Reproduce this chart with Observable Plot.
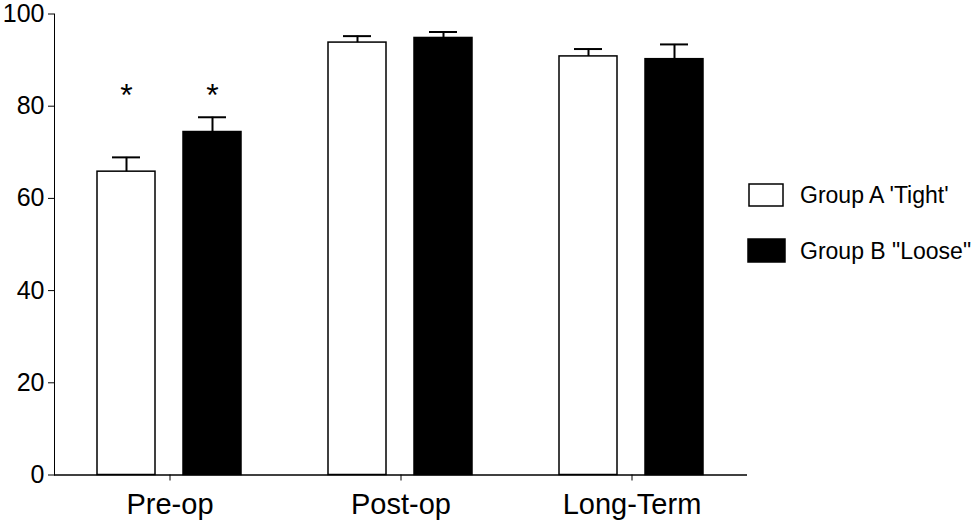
<!DOCTYPE html>
<html>
<head>
<meta charset="utf-8">
<script src="https://cdn.jsdelivr.net/npm/d3@7"></script>
<script src="https://cdn.jsdelivr.net/npm/@observablehq/plot@0.6"></script>
<style>
  body { margin: 0; background: #fff; }
</style>
</head>
<body>
<div id="chart"></div>
<script>
const times = ["Pre-op", "Post-op", "Long-Term"];
const groups = ["Group A 'Tight'", 'Group B "Loose"'];
const groupFills = ["white", "black"];
const meanA = [65.8, 93.8, 90.8];
const meanB = [74.4, 94.8, 90.2];
// upper error bar length (SEM)
const errA = [3.1, 1.4, 1.6];
const errB = [3.2, 1.3, 3.2];
// significance markers
const starTimes = ["Pre-op", "Pre-op"];
const starGroups = [groups[0], groups[1]];
const starLevel = 82;

let rows = times.flatMap((t, i) => [
  {time: t, group: groups[0], mean: meanA[i], err: errA[i]},
  {time: t, group: groups[1], mean: meanB[i], err: errB[i]}
]);
let stars = starTimes.map((t, i) => ({time: t, group: starGroups[i], y: starLevel}));

let chart = Plot.plot({
  width: 977,
  height: 523,
  marginLeft: 54,
  marginRight: 230,
  marginTop: 13.5,
  marginBottom: 48.5,
  style: {
    fontSize: "24px",
    fontFamily: "'Liberation Sans', Arial, sans-serif",
    color: "#000",
    backgroundColor: "#fff",
    overflow: "visible"
  },
  fx: {
    domain: times,
    padding: 0,
    label: null,
    axis: "bottom",
    tickSize: 6,
    tickPadding: 12
  },
  x: {
    domain: groups,
    axis: null,
    paddingInner: 0.322,
    paddingOuter: 0.489
  },
  y: {
    domain: [0, 100],
    ticks: [0, 20, 40, 60, 80, 100],
    tickSize: 6,
    tickPadding: 4,
    label: null,
    line: true
  },
  color: {domain: groups, range: groupFills},
  marks: [
    Plot.barY(rows, {fx: "time", x: "group", y: "mean", fill: "group", stroke: "black", strokeWidth: 1.5}),
    Plot.ruleX(rows, {fx: "time", x: "group", y1: "mean", y2: d => d.mean + d.err, strokeWidth: 2}),
    Plot.tickY(rows, {fx: "time", x: "group", y: d => d.mean + d.err, strokeWidth: 2, insetLeft: 15, insetRight: 15}),
    Plot.ruleY([0], {strokeWidth: 1.5}),
    Plot.text(stars, {fx: "time", x: "group", y: "y", text: () => "*", fontSize: 32, dy: -1})
  ]
});

// bigger category labels, as in the original
d3.select(chart).selectAll('[aria-label^="fx-axis"] text').attr("font-size", 29);
d3.select(chart).selectAll('[aria-label^="y-axis"] text').attr("font-size", 25);

// legend on the right
let svg = d3.select(chart);
let leg = svg.append("g").attr("font-size", 23).attr("text-anchor", "start");
let boxes = [{x: 749, y: 184, w: 34, h: 22}, {x: 748, y: 239, w: 37, h: 23}];
groups.forEach((g, i) => {
  let b = boxes[i];
  leg.append("rect").attr("x", b.x).attr("y", b.y).attr("width", b.w).attr("height", b.h)
    .attr("fill", groupFills[i]).attr("stroke", "black").attr("stroke-width", 1.5);
  leg.append("text").attr("x", 800).attr("y", b.y + b.h / 2).attr("dy", "0.35em")
    .attr("fill", "black").text(g);
});

d3.select('#chart').append(() => chart);
</script>
</body>
</html>
